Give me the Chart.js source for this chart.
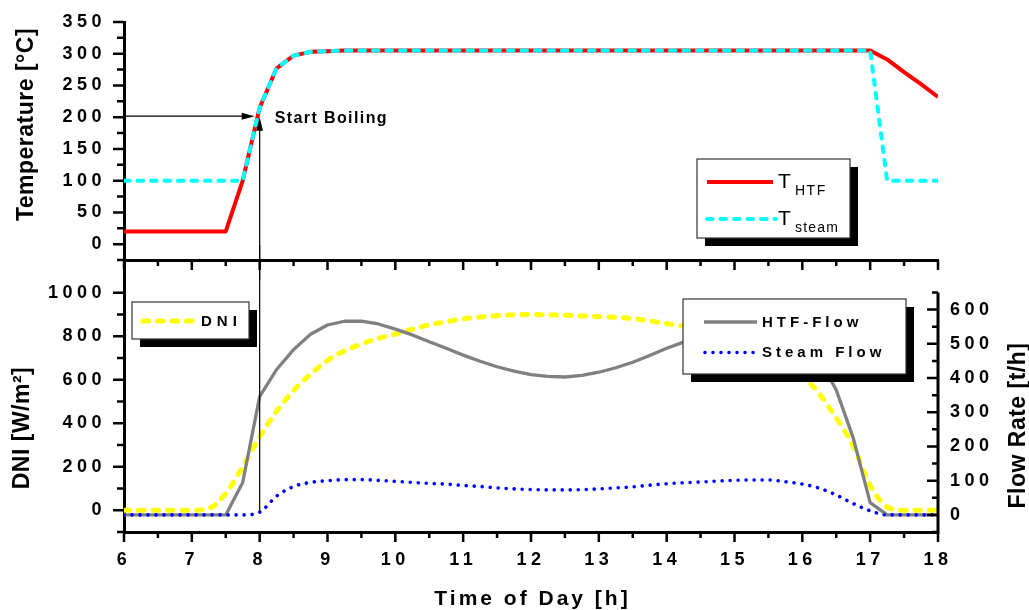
<!DOCTYPE html>
<html>
<head>
<meta charset="utf-8">
<script src="https://cdn.jsdelivr.net/npm/chart.js@4.4.0/dist/chart.umd.min.js"></script>
<style>
html, body { margin: 0; padding: 0; background: #fff; }
#wrap { position: relative; width: 1029px; height: 610px; overflow: hidden; background: #fff; }
canvas { position: absolute; left: 0; }
#topChart { top: 0; }
#botChart { top: 245px; }
</style>
</head>
<body>
<div id="wrap">
  <canvas id="topChart" width="1029" height="280"></canvas>
  <canvas id="botChart" width="1029" height="365"></canvas>
</div>
<script>
// time of day [h], one row per hour
var hours = [
  6, 6.25, 6.5, 6.75,
  7, 7.25, 7.5, 7.75,
  8, 8.25, 8.5, 8.75,
  9, 9.25, 9.5, 9.75,
  10, 10.25, 10.5, 10.75,
  11, 11.25, 11.5, 11.75,
  12, 12.25, 12.5, 12.75,
  13, 13.25, 13.5, 13.75,
  14, 14.25, 14.5, 14.75,
  15, 15.25, 15.5, 15.75,
  16, 16.25, 16.5, 16.75,
  17, 17.25, 17.5, 17.75,
  18
];

// temperatures [°C]
var tHTF = [
  20, 20, 20, 20,
  20, 20, 20, 100,
  215, 277, 297, 303,
  304, 305, 305, 305,
  305, 305, 305, 305,
  305, 305, 305, 305,
  305, 305, 305, 305,
  305, 305, 305, 305,
  305, 305, 305, 305,
  305, 305, 305, 305,
  305, 305, 305, 305,
  305, 291, 271, 252,
  232
];
var tSteam = [
  100, 100, 100, 100,
  100, 100, 100, 100,
  215, 277, 297, 303,
  304, 305, 305, 305,
  305, 305, 305, 305,
  305, 305, 305, 305,
  305, 305, 305, 305,
  305, 305, 305, 305,
  305, 305, 305, 305,
  305, 305, 305, 305,
  305, 305, 305, 305,
  305, 100, 100, 100,
  100
];

// DNI [W/m2]
var dni = [
  0, 0, 0, 0,
  0, 8, 77, 200,
  338, 455, 550, 625,
  688, 732, 764, 790,
  810, 832, 852, 866,
  880, 888, 894, 898,
  900, 898, 896, 893,
  890, 887, 880, 870,
  858, 845, 828, 808,
  785, 757, 722, 680,
  620, 535, 425, 295,
  115, 15, 0, 0,
  0
];

// flow rates [t/h]
var htfFlow = [
  0, 0, 0, 0,
  0, 0, 0, 95,
  346, 425, 483, 528,
  555, 566, 566, 558,
  543, 526, 506, 487,
  467, 449, 433, 420,
  410, 405, 403, 408,
  417, 430, 446, 466,
  487, 505, 520, 530,
  537, 540, 538, 528,
  505, 455, 365, 225,
  36, 0, 0, 0,
  0
];
var steamFlow = [
  0, 0, 0, 0,
  0, 0, 0, 0,
  8, 55, 83, 95,
  100, 103, 103, 101,
  98, 95, 92, 90,
  86, 83, 79, 76,
  74, 73, 73, 74,
  76, 79, 82, 87,
  91, 94, 96, 99,
  101, 102, 102, 97,
  90, 78, 58, 33,
  12, 0, 0, 0,
  0
];

// tick labels
var hourTicks = [6, 7, 8, 9, 10, 11, 12, 13, 14, 15, 16, 17, 18];
var tempTicks = [0, 50, 100, 150, 200, 250, 300, 350];
var dniTicks = [0, 200, 400, 600, 800, 1000];
var flowTicks = [0, 100, 200, 300, 400, 500, 600];

var boilTime = 8;
var boilTemp = 200;

var FONT = '"Liberation Sans", Arial, sans-serif';
Chart.defaults.font.family = FONT;
Chart.defaults.color = '#000';

function pts(ys) {
  return hours.map(function (h, i) { return { x: h, y: ys[i] }; });
}

function useTicks(list) {
  return function (s) {
    s.ticks = list.map(function (v) { return { value: v }; });
  };
}

function fixSize(w, h) {
  return function (s) {
    if (w !== null) s.width = w;
    if (h !== null) s.height = h;
    s.paddingTop = s.paddingBottom = s.paddingLeft = s.paddingRight = 0;
  };
}

function plain(v) { return String(v); }

function txt(ctx, text, x, y, font, spacing, align) {
  ctx.save();
  ctx.font = font;
  ctx.letterSpacing = spacing + 'px';
  ctx.textAlign = align || 'left';
  ctx.textBaseline = 'alphabetic';
  ctx.fillStyle = '#000';
  ctx.fillText(text, x, y);
  ctx.restore();
}

function vTitle(ctx, text, x, y, font, spacing) {
  ctx.save();
  ctx.translate(x, y);
  ctx.rotate(-Math.PI / 2);
  txt(ctx, text, 0, 0, font, spacing, 'center');
  ctx.restore();
}

function tickMarks(chart, id, from, to, minor, major, majLen, minLen, dir) {
  var sc = chart.scales[id], a = chart.chartArea, ctx = chart.ctx;
  ctx.save();
  ctx.strokeStyle = '#000';
  ctx.lineWidth = 2.5;
  ctx.beginPath();
  for (var v = from; v <= to + 1e-6; v += minor) {
    var isMaj = Math.abs(v / major - Math.round(v / major)) < 1e-6;
    var len = isMaj ? majLen : minLen;
    var p = sc.getPixelForValue(v);
    if (dir === 'down') { ctx.moveTo(p, a.bottom); ctx.lineTo(p, a.bottom + len); }
    else if (dir === 'left') { ctx.moveTo(a.left, p); ctx.lineTo(a.left - len, p); }
    else { ctx.moveTo(a.right, p); ctx.lineTo(a.right - len, p); }
  }
  ctx.stroke();
  ctx.restore();
}

function legendBox(ctx, x, y, w, h) {
  ctx.save();
  ctx.fillStyle = '#000';
  ctx.fillRect(x + 8, y + 8, w, h);
  ctx.fillStyle = '#fff';
  ctx.fillRect(x, y, w, h);
  ctx.strokeStyle = '#333';
  ctx.lineWidth = 1.2;
  ctx.strokeRect(x, y, w, h);
  ctx.restore();
}

function sample(ctx, x1, x2, y, ds) {
  ctx.save();
  ctx.strokeStyle = ds.borderColor;
  ctx.lineWidth = ds.borderWidth;
  ctx.lineCap = ds.borderDash ? 'round' : 'butt';
  ctx.setLineDash(ds.borderDash || []);
  ctx.beginPath();
  ctx.moveTo(x1, y);
  ctx.lineTo(x2, y);
  ctx.stroke();
  ctx.restore();
}

function arrowHead(ctx, tx, ty, dx, dy, len, half) {
  ctx.beginPath();
  ctx.moveTo(tx, ty);
  ctx.lineTo(tx - dx * len - dy * half, ty - dy * len + dx * half);
  ctx.lineTo(tx - dx * len + dy * half, ty - dy * len - dx * half);
  ctx.closePath();
  ctx.fill();
}

var spacingPlugin = {
  id: 'spacing',
  beforeDraw: function (chart) { chart.ctx.letterSpacing = '4.5px'; }
};

var lineDefaults = { pointRadius: 0, fill: false, tension: 0, borderJoinStyle: 'round' };
var tickFont = { size: 18, weight: 'bold' };
var noGrid = { display: false, drawTicks: false };
var axisLine = { display: true, color: '#000', width: 3 };

// ---------- top panel: temperatures ----------
var dsSteam = Object.assign({ label: 'T_steam', data: pts(tSteam), borderColor: '#00ffff', borderWidth: 4,
  borderDash: [5.5, 8], borderCapStyle: 'round', order: 0 }, lineDefaults);
var dsHTF = Object.assign({ label: 'T_HTF', data: pts(tHTF), borderColor: '#ff0000', borderWidth: 4,
  order: 1 }, lineDefaults);

var topDecor = {
  id: 'topDecor',
  afterDraw: function (chart) {
    var ctx = chart.ctx, a = chart.chartArea;
    var xs = chart.scales.x, ys = chart.scales.y;
    tickMarks(chart, 'x', 6, 18, 0.5, 1, 10, 6, 'down');
    tickMarks(chart, 'y', -25, 350, 25, 50, 11, 7, 'left');

    // start boiling marker
    var bx = xs.getPixelForValue(boilTime), by = ys.getPixelForValue(boilTemp);
    ctx.save();
    ctx.strokeStyle = '#000';
    ctx.fillStyle = '#000';
    ctx.lineWidth = 1.2;
    ctx.beginPath();
    ctx.moveTo(a.left, by - 1);
    ctx.lineTo(bx - 10, by - 1);
    ctx.moveTo(bx, by + 8);
    ctx.lineTo(bx, chart.height);
    ctx.stroke();
    arrowHead(ctx, bx - 5, by - 1, 1, 0, 13, 3.5);
    arrowHead(ctx, bx, by, 0, -1, 13.5, 3.3);
    ctx.restore();
    txt(ctx, 'Start Boiling', bx + 15, by + 6, 'bold 16px ' + FONT, 1.4);

    // legend
    legendBox(ctx, 697, 159, 153, 79);
    sample(ctx, 707, 773, 182, dsHTF);
    sample(ctx, 707, 776, 219, dsSteam);
    txt(ctx, 'T', 778, 188, '21px ' + FONT, 0);
    txt(ctx, 'HTF', 795, 194.5, '14px ' + FONT, 1.5);
    txt(ctx, 'T', 778, 225, '21px ' + FONT, 0);
    txt(ctx, 'steam', 795, 231.5, '14px ' + FONT, 1.2);

    vTitle(ctx, 'Temperature [°C]', 33, 124.5, 'bold 23px ' + FONT, 0.5);
  }
};

new Chart(document.getElementById('topChart'), {
  type: 'line',
  data: { datasets: [dsSteam, dsHTF] },
  options: {
    responsive: false,
    devicePixelRatio: 1,
    animation: false,
    layout: { autoPadding: false, padding: { left: 0, right: 91, top: 22, bottom: 0 } },
    plugins: { legend: { display: false }, tooltip: { enabled: false } },
    scales: {
      x: {
        type: 'linear', min: 6, max: 18,
        ticks: { display: false },
        afterBuildTicks: useTicks(hourTicks),
        grid: noGrid,
        border: axisLine,
        afterFit: fixSize(null, 20)
      },
      y: {
        min: -25, max: 350,
        ticks: { padding: 18, font: tickFont, callback: plain },
        afterBuildTicks: useTicks(tempTicks),
        grid: noGrid,
        border: axisLine,
        afterFit: fixSize(124, null)
      }
    }
  },
  plugins: [spacingPlugin, topDecor]
});

// ---------- bottom panel: DNI and flow rates ----------
var dsSteamFlow = Object.assign({ label: 'Steam Flow', data: pts(steamFlow), yAxisID: 'y2', borderColor: '#0000ff',
  borderWidth: 3.6, borderDash: [0.01, 8], borderCapStyle: 'round', order: 0 }, lineDefaults,
  { cubicInterpolationMode: 'monotone' });
var dsHtfFlow = Object.assign({ label: 'HTF-Flow', data: pts(htfFlow), yAxisID: 'y2', borderColor: '#808080',
  borderWidth: 3.3, order: 1 }, lineDefaults);
var dsDNI = Object.assign({ label: 'DNI', data: pts(dni), yAxisID: 'y', borderColor: '#ffff00',
  borderWidth: 5, borderDash: [5.5, 9], borderCapStyle: 'round', order: 2 }, lineDefaults,
  { cubicInterpolationMode: 'monotone' });

var botDecor = {
  id: 'botDecor',
  afterDraw: function (chart) {
    var ctx = chart.ctx, a = chart.chartArea;
    var xs = chart.scales.x, y2 = chart.scales.y2;
    tickMarks(chart, 'x', 6, 18, 0.5, 1, 10, 6, 'down');
    tickMarks(chart, 'y', -100, 1000, 100, 200, 11, 7, 'left');
    tickMarks(chart, 'y2', -50, 650, 50, 100, 11, 6, 'in');

    ctx.save();
    ctx.strokeStyle = '#000';
    ctx.lineWidth = 3;
    ctx.beginPath();
    ctx.moveTo(a.right, y2.getPixelForValue(650));
    ctx.lineTo(a.right, a.bottom + 1.5);
    ctx.stroke();

    // continuation of the start boiling line
    var bx = xs.getPixelForValue(boilTime);
    ctx.lineWidth = 1.2;
    ctx.beginPath();
    ctx.moveTo(bx, 0);
    ctx.lineTo(bx, y2.getPixelForValue(steamFlow[hours.indexOf(boilTime)]));
    ctx.stroke();
    ctx.restore();

    // legends
    legendBox(ctx, 132, 57, 117, 37);
    sample(ctx, 143, 193, 76, dsDNI);
    txt(ctx, 'DNI', 201, 80.5, 'bold 15px ' + FONT, 5);

    legendBox(ctx, 683, 54, 223, 75);
    sample(ctx, 704, 757, 77, dsHtfFlow);
    sample(ctx, 705, 757, 107.5, dsSteamFlow);
    txt(ctx, 'HTF-Flow', 762, 81.5, 'bold 15px ' + FONT, 4);
    txt(ctx, 'Steam Flow', 762, 112, 'bold 15px ' + FONT, 4);

    vTitle(ctx, 'DNI [W/m²]', 28.5, 183, 'bold 23px ' + FONT, 0.5);
    vTitle(ctx, 'Flow Rate [t/h]', 1025, 180.5, 'bold 23px ' + FONT, 0.5);
    txt(ctx, 'Time of Day [h]', (a.left + a.right) / 2 + 1.5, 360, 'bold 21px ' + FONT, 3, 'center');
  }
};

new Chart(document.getElementById('botChart'), {
  type: 'line',
  data: { datasets: [dsSteamFlow, dsHtfFlow, dsDNI] },
  options: {
    responsive: false,
    devicePixelRatio: 1,
    animation: false,
    layout: { autoPadding: false, padding: { left: 0, right: 0, top: 15, bottom: 0 } },
    plugins: { legend: { display: false }, tooltip: { enabled: false } },
    scales: {
      x: {
        type: 'linear', min: 6, max: 18,
        ticks: { padding: 17, maxRotation: 0, autoSkip: false, font: tickFont, callback: plain },
        afterBuildTicks: useTicks(hourTicks),
        grid: noGrid,
        border: axisLine,
        afterFit: fixSize(null, 78)
      },
      y: {
        position: 'left',
        min: -100, max: 1150,
        ticks: { padding: 18, font: tickFont, callback: plain },
        afterBuildTicks: useTicks(dniTicks),
        grid: noGrid,
        border: axisLine,
        afterFit: fixSize(124, null)
      },
      y2: {
        position: 'right',
        min: -50, max: 745,
        ticks: { padding: 12, font: tickFont, callback: plain },
        afterBuildTicks: useTicks(flowTicks),
        grid: noGrid,
        border: { display: false },
        afterFit: fixSize(91, null)
      }
    }
  },
  plugins: [spacingPlugin, botDecor]
});
</script>
</body>
</html>
